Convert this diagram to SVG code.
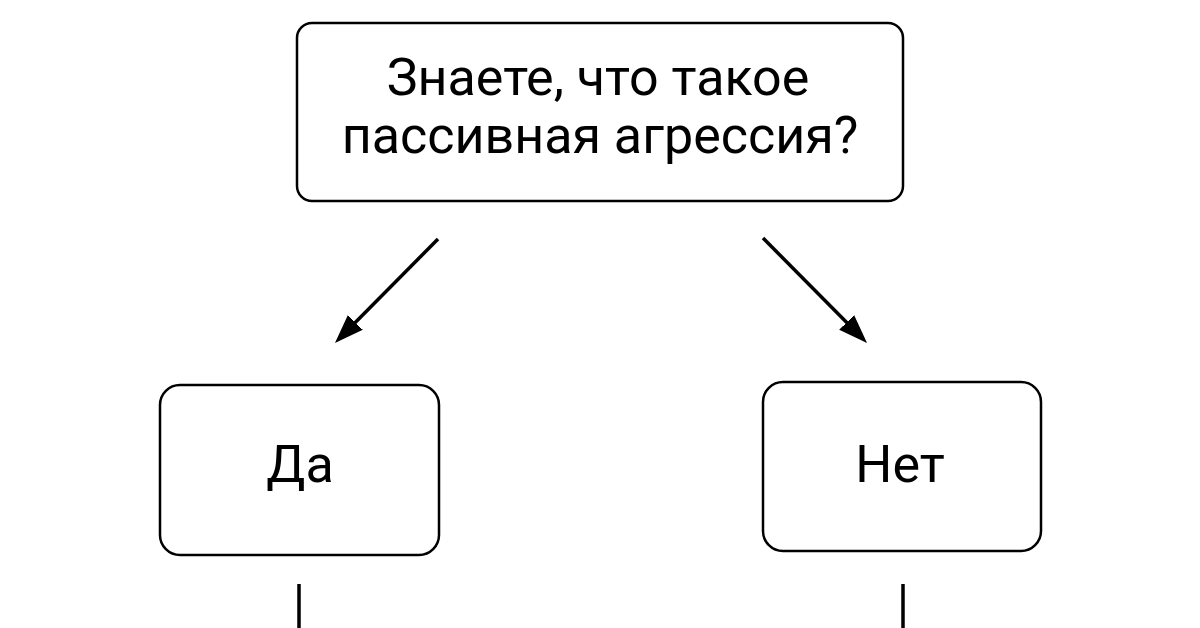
<svg xmlns="http://www.w3.org/2000/svg" width="1200" height="628" viewBox="0 0 1200 628">
<style>
.box{fill:#fff;stroke:#000;stroke-width:2.5}
.lbl{font-family:Roboto,"Noto Sans",sans-serif;font-size:52px;fill:#000;text-anchor:middle}
.con{stroke:#000;stroke-width:3.5;fill:none}
</style>
<defs>
<marker id="ah" markerUnits="userSpaceOnUse" markerWidth="32" markerHeight="24" refX="17" refY="10.5" orient="auto">
<path d="M0,0 L29,10.5 L0,21 z" fill="#000"/>
</marker>
</defs>
<rect width="1200" height="628" fill="#fff"/>
<g id="connectors">
<line class="con" x1="438" y1="239" x2="343.4" y2="334.5" marker-end="url(#ah)"/>
<line class="con" x1="763" y1="238" x2="858.6" y2="334.5" marker-end="url(#ah)"/>
<line class="con" x1="299" y1="584" x2="299" y2="628"/>
<line class="con" x1="903" y1="584" x2="903" y2="628"/>
</g>
<g id="question">
<rect class="box" x="297" y="23" width="606" height="178" rx="15"/>
<text class="lbl" x="598" y="95">Знаете, что такое</text>
<text class="lbl" x="600" y="153">пассивная агрессия?</text>
</g>
<g id="yes">
<rect class="box" x="160" y="385" width="279" height="170" rx="20"/>
<text class="lbl" x="300" y="482">Да</text>
</g>
<g id="no">
<rect class="box" x="763" y="382" width="278" height="169" rx="20"/>
<text class="lbl" x="900" y="482">Нет</text>
</g>
</svg>
